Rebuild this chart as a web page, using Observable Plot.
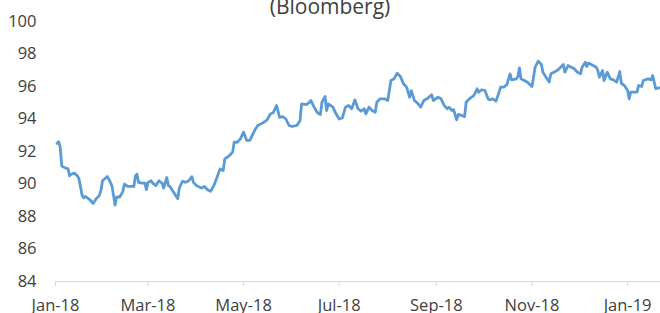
<!DOCTYPE html>
<html>
<head>
<meta charset="utf-8">
<script src="https://cdn.jsdelivr.net/npm/d3@7"></script>
<script src="https://cdn.jsdelivr.net/npm/@observablehq/plot@0.6"></script>
<style>
  html, body { margin: 0; padding: 0; background: #fff; }
  #wrap { position: relative; width: 660px; height: 313px; overflow: hidden; }
  #title { position: absolute; left: 0; top: -4px; width: 660px; text-align: center;
           font-family: "Open Sans", sans-serif; font-size: 21px; line-height: 21px; color: #404040; }
</style>
</head>
<body>
<div id="wrap"><div id="title">(Bloomberg)</div></div>
<script>
const titleText = "(Bloomberg)";
const dates = [
"2018-01-02","2018-01-03","2018-01-04","2018-01-05","2018-01-07","2018-01-09","2018-01-10","2018-01-11","2018-01-13","2018-01-15",
"2018-01-16","2018-01-18","2018-01-19","2018-01-20","2018-01-22","2018-01-23","2018-01-25","2018-01-27","2018-01-29","2018-01-30",
"2018-01-31","2018-02-03","2018-02-04","2018-02-06","2018-02-07","2018-02-08","2018-02-09","2018-02-11","2018-02-13","2018-02-14",
"2018-02-16","2018-02-18","2018-02-20","2018-02-21","2018-02-22","2018-02-23","2018-02-25","2018-02-27","2018-02-28","2018-03-01",
"2018-03-03","2018-03-04","2018-03-06","2018-03-08","2018-03-10","2018-03-11","2018-03-13","2018-03-14","2018-03-15","2018-03-18",
"2018-03-20","2018-03-21","2018-03-23","2018-03-25","2018-03-27","2018-03-29","2018-03-30","2018-04-01","2018-04-04","2018-04-06",
"2018-04-08","2018-04-10","2018-04-12","2018-04-14","2018-04-16","2018-04-18","2018-04-19","2018-04-22","2018-04-23","2018-04-24",
"2018-04-25","2018-04-27","2018-04-29","2018-05-01","2018-05-03","2018-05-05","2018-05-08","2018-05-10","2018-05-12","2018-05-14",
"2018-05-16","2018-05-18","2018-05-20","2018-05-22","2018-05-24","2018-05-26","2018-05-28","2018-05-30","2018-06-01","2018-06-04",
"2018-06-06","2018-06-07","2018-06-10","2018-06-12","2018-06-13","2018-06-15","2018-06-17","2018-06-19","2018-06-20","2018-06-22",
"2018-06-23","2018-06-24","2018-06-27","2018-06-29","2018-07-01","2018-07-03","2018-07-05","2018-07-07","2018-07-09","2018-07-11",
"2018-07-13","2018-07-15","2018-07-17","2018-07-18","2018-07-20","2018-07-22","2018-07-24","2018-07-25","2018-07-27","2018-07-30",
"2018-08-01","2018-08-03","2018-08-05","2018-08-07","2018-08-09","2018-08-11","2018-08-13","2018-08-15","2018-08-16","2018-08-18",
"2018-08-20","2018-08-22","2018-08-24","2018-08-26","2018-08-29","2018-08-30","2018-09-02","2018-09-04","2018-09-06","2018-09-08",
"2018-09-09","2018-09-11","2018-09-12","2018-09-14","2018-09-15","2018-09-17","2018-09-19","2018-09-20","2018-09-22","2018-09-25",
"2018-09-27","2018-09-28","2018-09-30","2018-10-02","2018-10-04","2018-10-05","2018-10-07","2018-10-09","2018-10-11","2018-10-12",
"2018-10-14","2018-10-16","2018-10-18","2018-10-19","2018-10-22","2018-10-23","2018-10-24","2018-10-25","2018-10-27","2018-10-29",
"2018-11-01","2018-11-02","2018-11-03","2018-11-05","2018-11-07","2018-11-08","2018-11-10","2018-11-12","2018-11-13","2018-11-15",
"2018-11-17","2018-11-19","2018-11-21","2018-11-22","2018-11-24","2018-11-26","2018-11-28","2018-11-30","2018-12-02","2018-12-03",
"2018-12-05","2018-12-06","2018-12-07","2018-12-10","2018-12-12","2018-12-13","2018-12-14","2018-12-16","2018-12-17","2018-12-19",
"2018-12-21","2018-12-23","2018-12-25","2018-12-27","2018-12-28","2018-12-30","2019-01-01","2019-01-02","2019-01-03","2019-01-05",
"2019-01-07","2019-01-08","2019-01-10","2019-01-11","2019-01-14","2019-01-16","2019-01-17","2019-01-19","2019-01-21"
];
const values = [
92.5,92.6,92.27,91.1,91.0,90.93,90.5,90.6,90.67,90.5,
90.3,89.3,89.15,89.23,89.1,89.03,88.8,89.1,89.3,89.6,
90.2,90.46,90.3,89.9,89.3,88.7,89.2,89.2,89.55,90.0,
89.85,89.85,89.85,90.5,90.6,90.1,90.05,90.05,89.65,90.1,
90.2,90.05,89.9,90.2,90.05,89.75,90.4,89.9,89.85,89.4,
89.1,89.75,90.17,90.1,90.2,90.45,90.1,89.9,89.75,89.85,
89.65,89.55,89.9,90.4,90.93,90.83,91.55,91.75,91.86,91.96,
92.57,92.57,92.78,93.19,92.68,92.68,93.29,93.6,93.7,93.8,
93.95,94.3,94.4,94.83,94.1,94.15,94.0,93.6,93.54,93.6,
93.9,94.93,94.89,95.03,95.14,94.73,94.4,94.28,95.03,95.38,
94.52,94.93,94.73,94.32,94.0,94.06,94.73,94.83,94.63,95.18,
94.63,94.48,94.63,94.32,94.73,94.52,94.42,95.03,95.24,95.24,
95.14,96.37,96.47,96.82,96.62,96.17,95.96,95.34,95.75,95.14,
94.97,94.73,95.14,95.24,95.49,95.14,95.34,95.24,94.83,94.63,
94.73,94.52,94.57,93.95,94.28,94.22,94.15,95.03,95.24,95.45,
95.86,95.65,95.8,95.75,95.24,95.18,95.24,95.1,95.65,95.96,
95.96,96.12,96.78,96.41,96.47,96.62,97.15,96.47,96.37,96.27,
96.0,96.57,97.19,97.56,97.35,96.88,96.57,96.27,96.78,96.88,
96.98,97.15,97.35,96.88,97.29,97.19,97.09,96.88,96.78,97.19,
97.5,97.23,97.44,97.29,97.19,96.98,96.57,96.98,96.37,96.88,
96.47,96.41,96.27,96.92,96.2,96.06,95.75,95.24,95.65,95.65,
95.65,96.06,96.0,96.37,96.47,96.41,96.68,95.86,95.92
];
const xTicks = ["2018-01-01","2018-03-01","2018-05-01","2018-07-01","2018-09-01","2018-11-01","2019-01-01"];
const yTicks = [84, 86, 88, 90, 92, 94, 96, 98, 100];

const data = dates.map((d, i) => ({date: new Date(d), value: values[i]}));
const fmt = d3.utcFormat("%b-%y");

const chart = Plot.plot({
  width: 660,
  height: 313,
  marginLeft: 55,
  marginRight: 0,
  marginTop: 21,
  marginBottom: 32,
  style: {fontFamily: "Open Sans, sans-serif", fontSize: "16.5px", background: "transparent"},
  x: {type: "utc", domain: [new Date("2018-01-01"), new Date("2019-01-22")]},
  y: {domain: [84, 100]},
  marks: [
    Plot.ruleY([84], {stroke: "#d9d9d9", strokeWidth: 1}),
    Plot.axisX({ticks: xTicks.map(d => new Date(d)), tickSize: 5, tickPadding: 13, tickFormat: fmt,
                stroke: "#d9d9d9", fill: "#404040", label: null}),
    Plot.axisY({ticks: yTicks, tickSize: 0, tickPadding: 19, fill: "#404040", label: null}),
    Plot.line(data, {x: "date", y: "value", stroke: "#5b9bd5", strokeWidth: 2.8, strokeLinejoin: "round"})
  ]
});
document.getElementById("wrap").appendChild(chart);
document.getElementById("title").textContent = titleText;
</script>
</body>
</html>
